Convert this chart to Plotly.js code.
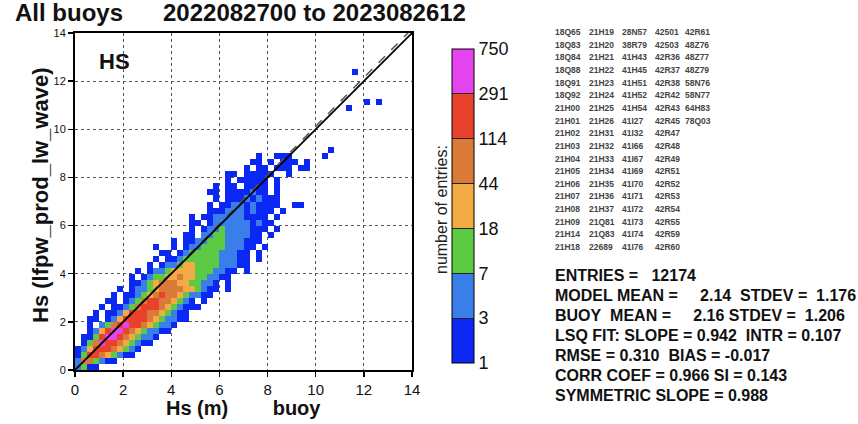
<!DOCTYPE html>
<html><head><meta charset="utf-8">
<script src="https://cdn.plot.ly/plotly-3.0.1.min.js"></script>
<style>html,body{margin:0;padding:0;background:#fff}#chart{width:858px;height:424px}</style>
</head><body><div id="chart"></div><script>
// ---- data ----
const binSize = 0.25;           // histogram bin width (m)
const nBins = 56;               // 0..14 m
// histRows[j] = [first x-bin, class string]; j = y-bin (model Hs), chars: '.' empty, 1..7 count class
const histRows = [
  [0,"2311"],
  [0,"2553211"],
  [0,"1366543211"],
  [0,"12466654321"],
  [1,"135766543211"],
  [1,"1136776543221"],
  [2,"12467765432211"],
  [2,"1.2356766543221"],
  [2,"11.12466665432211"],
  [3,"1.11246665543211"],
  [4,"1.112356665432111"],
  [5,"11.123566554321.1"],
  [6,"1.112345655432211"],
  [7,"1.122345555443211.1"],
  [9,"112345554433221.1"],
  [9,"1.123344544332211"],
  [10,"1.122344443332211.1"],
  [12,"1.122344333322211"],
  [13,"1.11233333322211.1"],
  [14,"11.123333322211.1"],
  [13,"1..1.122333322211.1"],
  [16,"1.1122333222111"],
  [18,"11.2233222211.1"],
  [19,"1.12232222111.1"],
  [19,"11.12222221211"],
  [19,"1.11222221111.1"],
  [22,"11122212111.1"],
  [22,"1.1122121111..11"],
  [23,"1.111212111"],
  [22,"11.1111211.1"],
  [23,"1.11.1111.1"],
  [25,"1.11111.1"],
  [25,"11.11111..1"],
  [28,"1.11.111.11"],
  [29,"11.1.111.1"],
  [30,"1..111.....1"],
  [42,"1"],
  [0,""],[0,""],[0,""],[0,""],[0,""],[0,""],
  [45,"1"],
  [48,"1.1"],
  [0,""],[0,""],[0,""],[0,""],
  [46,"1"],
  [0,""],[0,""],[0,""],[0,""],[0,""],[0,""]
];
const classEdges = ['1','3','7','18','44','114','291','750'];
const classColors = ['#0b27f3','#3a7fe9','#5dca44','#f3aa44','#d97a38','#e8412c','#e443ee'];
const oneToOneX = [0, 14];
const oneToOneY = [0, 14];
const symSlope = 0.988;
const axisTicks = [0,2,4,6,8,10,12,14];
const buoyCols = [
  ['18Q65','18Q83','18Q84','18Q88','18Q91','18Q92','21H00','21H01','21H02','21H03','21H04','21H05','21H06','21H07','21H08','21H09','21H14','21H18'],
  ['21H19','21H20','21H21','21H22','21H23','21H24','21H25','21H26','21H31','21H32','21H33','21H34','21H35','21H36','21H37','21Q81','21Q83','22689'],
  ['28N57','38R79','41H43','41H45','41H51','41H52','41H54','41I27','41I32','41I66','41I67','41I69','41I70','41I71','41I72','41I73','41I74','41I76'],
  ['42501','42503','42R36','42R37','42R38','42R42','42R43','42R45','42R47','42R48','42R49','42R51','42R52','42R53','42R54','42R55','42R59','42R60'],
  ['42R61','48Z76','48Z77','48Z79','58N76','58N77','64H83','78Q03']
];
const S = n => '\u00a0'.repeat(n);
const statsLines = [
  'ENTRIES =' + S(3) + '12174',
  'MODEL MEAN =' + S(5) + '2.14' + S(2) + 'STDEV =' + S(2) + '1.176',
  'BUOY' + S(2) + 'MEAN =' + S(5) + '2.16' + S(1) + 'STDEV =' + S(2) + '1.206',
  'LSQ FIT: SLOPE =' + S(1) + '0.942' + S(2) + 'INTR =' + S(1) + '0.107',
  'RMSE =' + S(1) + '0.310' + S(2) + 'BIAS =' + S(1) + '-0.017',
  'CORR COEF =' + S(1) + '0.966 SI =' + S(1) + '0.143',
  'SYMMETRIC SLOPE =' + S(1) + '0.988'
];

// ---- build ----
const FONT = 'Liberation Sans, Arial, Helvetica, sans-serif';
const centers = Array.from({length: nBins}, (_, i) => i * binSize + binSize / 2);
const z = Array.from({length: nBins}, () => Array(nBins).fill(null));
histRows.forEach(([s, str], j) => {
  for (let k = 0; k < str.length; k++) {
    const ch = str[k];
    if (ch !== '.') z[j][s + k] = Number(ch) - 0.5;
  }
});
const cs = [];
classColors.forEach((c, k) => { cs.push([k / 7, c]); cs.push([(k + 1) / 7, c]); });

// plot area: x 75..412, y 33..370
const L = 75, R = 412, T = 33, B = 370, W = R - L, H = B - T;
const px = v => (v - L) / W;
const py = v => (B - v) / H;

const traces = [
  {type: 'heatmap', x: centers, y: centers, z: z, zmin: 0, zmax: 7, colorscale: cs,
   hoverinfo: 'skip', xgap: 0, ygap: 0,
   colorbar: {x: px(452), xanchor: 'left', xpad: 0, ypad: 0, y: py(206), yanchor: 'middle',
     thickness: 22, thicknessmode: 'pixels', len: 314, lenmode: 'pixels',
     outlinewidth: 1, outlinecolor: '#000', tickvals: [0,1,2,3,4,5,6,7], ticktext: classEdges,
     ticks: 'inside', ticklen: 22, tickwidth: 1, tickcolor: '#222',
     tickfont: {family: FONT, size: 18, color: '#111'}}},
  {type: 'scatter', mode: 'lines', x: oneToOneY.map(v => v * symSlope), y: oneToOneY,
   line: {color: '#555', width: 1.5, dash: 'dash'}, hoverinfo: 'skip', showlegend: false},
  {type: 'scatter', mode: 'lines', x: oneToOneX, y: oneToOneY,
   line: {color: '#000', width: 1.8}, hoverinfo: 'skip', showlegend: false}
];

const ann = [];
ann.push({text: '<b>HS</b>', xref: 'paper', yref: 'paper', x: px(97), y: py(62), xanchor: 'left', yanchor: 'middle',
  showarrow: false, font: {family: FONT, size: 22, color: '#111'}});
ann.push({text: '<b>Hs (lfpw_prod_lw_wave)</b>', xref: 'paper', yref: 'paper', x: px(41), y: py(195),
  xanchor: 'center', yanchor: 'middle', textangle: -90, showarrow: false, font: {family: FONT, size: 22, color: '#111'}});
ann.push({text: '<b>Hs (m)' + S(8) + 'buoy</b>', xref: 'paper', yref: 'paper', x: px(243), y: py(408),
  xanchor: 'center', yanchor: 'middle', showarrow: false, font: {family: FONT, size: 20, color: '#111'}});
ann.push({text: 'number of entries:', xref: 'paper', yref: 'paper', x: px(441), y: py(210),
  xanchor: 'center', yanchor: 'middle', textangle: -90, showarrow: false, font: {family: FONT, size: 16, color: '#222'}});
const colX = [553, 587, 620, 653, 683];
buoyCols.forEach((col, c) => col.forEach((name, r) => {
  ann.push({text: '<b>' + name + '</b>', xref: 'paper', yref: 'paper', x: px(colX[c]), y: py(32 + 12.65 * r),
    xanchor: 'left', yanchor: 'middle', showarrow: false, font: {family: FONT, size: 8.5, color: '#444'}});
}));
statsLines.forEach((t, r) => {
  ann.push({text: '<b>' + t + '</b>', xref: 'paper', yref: 'paper', x: px(553), y: py(275 + 20 * r),
    xanchor: 'left', yanchor: 'middle', showarrow: false, font: {family: FONT, size: 16, color: '#111'}});
});

const axisCommon = {range: [0, 14], tickvals: axisTicks, showgrid: true, gridcolor: '#555', griddash: 'dot', gridwidth: 1,
  showline: true, linecolor: '#000', linewidth: 2, mirror: true, ticks: 'outside', ticklen: 5, tickwidth: 1.5,
  tickcolor: '#000', zeroline: false, fixedrange: true};

const layout = {
  width: 858, height: 424, margin: {l: L, r: 858 - R, t: T, b: 424 - B, pad: 0},
  paper_bgcolor: '#fff', plot_bgcolor: '#fff', showlegend: false,
  title: {text: '<b>All buoys' + S(6) + '2022082700 to 2023082612</b>', x: 15 / 858, xref: 'container', xanchor: 'left',
    y: 1 - 13 / 424, yref: 'container', yanchor: 'middle', font: {family: FONT, size: 24, color: '#111'}},
  xaxis: Object.assign({}, axisCommon, {tickfont: {family: FONT, size: 15, color: '#111'}}),
  yaxis: Object.assign({}, axisCommon, {tickfont: {family: FONT, size: 11, color: '#111'}}),
  annotations: ann
};
Plotly.newPlot('chart', traces, layout, {staticPlot: true, displayModeBar: false});
</script></body></html>
